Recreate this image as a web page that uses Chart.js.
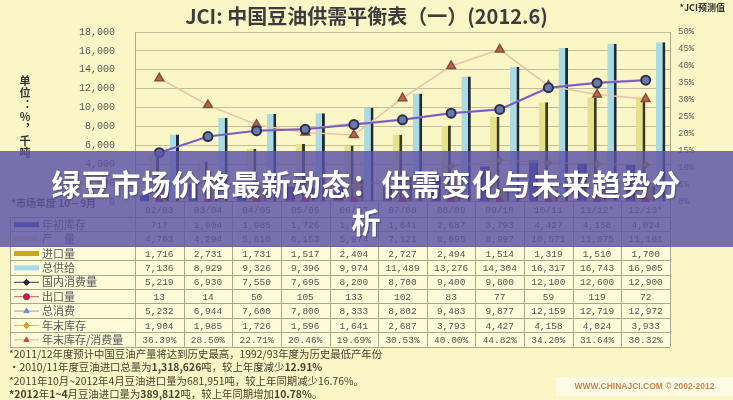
<!DOCTYPE html>
<html lang="zh">
<head>
<meta charset="UTF-8">
<title>JCI: 中国豆油供需平衡表（一）(2012.6)</title>
<script src="https://cdn.jsdelivr.net/npm/chart.js"></script>
<style>
    html, body { margin: 0; padding: 0; background: #faf6c6; }
    .wrap { position: relative; width: 733px; height: 400px; overflow: hidden; background: #faf6c6; }
    #chart { position: absolute; left: 0; top: 0; }
    .title { position: absolute; top: 1px; left: 0; width: 733px; text-align: center; line-height: 22px;
             font: bold 20px "Noto Sans CJK SC", sans-serif; color: #3c3c3c; }
    .forecast { position: absolute; top: 1px; right: 8px; font: bold 9px "Noto Sans CJK SC", sans-serif; color: #333; }
    .unit { position: absolute; left: 17px; top: 75px; writing-mode: vertical-rl; text-orientation: upright;
            font: bold 11px "Noto Sans CJK SC", sans-serif; letter-spacing: 1px; color: #333; }
    .season { position: absolute; left: 11px; top: 195px; font: bold 10px "Noto Sans CJK SC", sans-serif; color: #444; }
    .notes { position: absolute; left: 9px; top: 347px; font: 10.4px "Noto Sans CJK SC", sans-serif; line-height: 13.3px; color: #4a4232; }
    .notes b { font-weight: bold; }
    .mark { position: absolute; left: 556px; top: 377px; width: 177px; height: 19px; background: rgba(255,255,255,0.55);
            font: bold 8.5px "Liberation Sans", sans-serif; line-height: 19px; text-align: center; color: #c8864e; }
    .banner { position: absolute; left: 0; top: 151px; width: 733px; height: 96px; box-sizing: border-box;
              padding: 13px 40px 0; background: rgba(92, 82, 166, 0.82); text-align: center;
              font: bold 29px "Noto Sans CJK SC", sans-serif; line-height: 38px; letter-spacing: 1px; color: #fff;
              text-shadow: 1px 1px 2px rgba(0,0,0,0.35); }
</style>
</head>
<body>
<div class="wrap">
    <canvas id="chart" width="733" height="400"></canvas>
    <div class="title">JCI: 中国豆油供需平衡表（一）(2012.6)</div>
    <div class="forecast">*JCI预测值</div>
    <div class="unit">单位：%，千吨</div>
    <div class="season">*市场年度 10－9月</div>
    <div class="notes">
        *2011/12年度预计中国豆油产量将达到历史最高，1992/93年度为历史最低产年份<br>
        •2010/11年度豆油进口总量为<b>1,318,626</b>吨，较上年度减少<b>12.91%</b><br>
        *2011年10月~2012年4月豆油进口量为681,951吨，较上年同期减少16.76%。<br>
        <b>*2012</b>年<b>1~4</b>月豆油进口量为<b>389,812</b>吨，较上年同期增加<b>10.78%</b>。
    </div>
    <div class="mark">WWW.CHINAJCI.COM © 2002-2012</div>
    <div class="banner">绿豆市场价格最新动态：供需变化与未来趋势分析</div>
</div>

<script>
    // market years (Oct - Sep), * = JCI forecast
    var categories = ['02/03', '03/04', '04/05', '05/06', '06/07', '07/08', '08/09', '09/10', '10/11', '11/12*', '12/13*'];

    // thousand tonnes
    var openingStock = [717, 1904, 1985, 1726, 1596, 1641, 2687, 3793, 4427, 4158, 4024];
    var production = [4703, 4294, 5610, 6153, 5974, 7121, 8095, 8997, 10571, 11075, 11181];
    var imports = [1716, 2731, 1731, 1517, 2404, 2727, 2494, 1514, 1319, 1510, 1700];
    var totalSupply = [7136, 8929, 9326, 9396, 9974, 11489, 13276, 14304, 16317, 16743, 16905];
    var domesticUse = [5219, 6930, 7550, 7695, 8200, 8700, 9400, 9800, 12100, 12600, 12900];
    var exportsQty = [13, 14, 50, 105, 133, 102, 83, 77, 59, 119, 72];
    var totalUse = [5232, 6944, 7600, 7800, 8333, 8802, 9483, 9877, 12159, 12719, 12972];
    var endingStock = [1904, 1985, 1726, 1596, 1641, 2687, 3793, 4427, 4158, 4024, 3933];
    // percent
    var stockToUse = [36.39, 28.50, 22.71, 20.46, 19.69, 30.53, 40.00, 44.82, 34.20, 31.64, 30.32];

    var leftTicks = [0, 2000, 4000, 6000, 8000, 10000, 12000, 14000, 16000, 18000];
    var rightTicks = [0, 5, 10, 15, 20, 25, 30, 35, 40, 45, 50];

    function fmt(v) { return v.toLocaleString('en-US'); }
    function pct(v) { return v.toFixed(2) + '%'; }

    // rows of the data table under the chart
    var rows = [
        { label: '年初库存', data: openingStock, kind: 'bar', color: '#3b3f9e' },
        { label: '产　量', data: production, kind: 'bar', color: '#e6e28c' },
        { label: '进口量', data: imports, kind: 'bar', color: '#c9a91e' },
        { label: '总供给', data: totalSupply, kind: 'bar', color: '#a9dbe6' },
        { label: '国内消费量', data: domesticUse, kind: 'line', color: '#3a3560', marker: 'rectRot', mcolor: '#202040' },
        { label: '出口量', data: exportsQty, kind: 'line', color: '#d05070', marker: 'circle', mcolor: '#c81e4a' },
        { label: '总消费', data: totalUse, kind: 'line', color: '#8aa0d0', marker: 'triangle', mcolor: '#6f8fd0' },
        { label: '年末库存', data: endingStock, kind: 'line', color: '#e8b860', marker: 'rectRot', mcolor: '#e0a020' },
        { label: '年末库存/消费量', data: stockToUse, kind: 'line', color: '#e6b0a0', marker: 'triangle', mcolor: '#c8503c', percent: true }
    ];

    var tablePlugin = {
        id: 'dataTable',
        afterDraw: function (chart) {
            var ctx = chart.ctx;
            var xs = chart.scales.x;
            var area = chart.chartArea;
            var colW = xs.getPixelForValue(1) - xs.getPixelForValue(0);
            var top = area.bottom, headH = 15, rowH = 14.4, left = 10;
            var bottom = top + headH + rowH * rows.length;

            ctx.save();
            ctx.fillStyle = '#fdfbd8';
            ctx.fillRect(left, top + headH, area.right - left, bottom - top - headH);
            ctx.fillRect(area.left, top, area.right - area.left, headH);

            ctx.strokeStyle = '#aaa78c';
            ctx.lineWidth = 1;
            function seg(x1, y1, x2, y2) {
                ctx.beginPath(); ctx.moveTo(x1, y1); ctx.lineTo(x2, y2); ctx.stroke();
            }
            for (var i = 0; i <= rows.length; i++) {
                var y = Math.round(top + headH + rowH * i) + 0.5;
                seg(left, y, area.right, y);
            }
            for (var c = 0; c <= categories.length; c++) {
                var xx = Math.round(xs.getPixelForValue(c) - colW / 2) + 0.5;
                seg(xx, top, xx, bottom);
            }
            seg(left + 0.5, top + headH, left + 0.5, bottom);

            // header: category labels
            ctx.fillStyle = '#555';
            ctx.textAlign = 'center';
            ctx.textBaseline = 'middle';
            ctx.font = '9.5px "Liberation Mono", monospace';
            categories.forEach(function (cat, k) {
                ctx.fillText(cat, xs.getPixelForValue(k), top + headH / 2 + 1);
            });

            rows.forEach(function (row, r) {
                var cy = top + headH + rowH * r + rowH / 2 + 0.5;
                // legend swatch
                if (row.kind === 'bar') {
                    ctx.fillStyle = row.color;
                    ctx.fillRect(14, cy - 2.5, 25, 5);
                } else {
                    ctx.strokeStyle = row.color;
                    seg(14, cy, 39, cy);
                    ctx.fillStyle = row.mcolor;
                    ctx.strokeStyle = row.mcolor;
                    Chart.helpers.drawPoint(ctx, { pointStyle: row.marker, radius: 3, borderWidth: 1, rotation: 0 }, 26.5, cy);
                    ctx.fill();
                }
                ctx.fillStyle = '#5a5a5a';
                ctx.textAlign = 'left';
                ctx.font = '11px "Noto Sans CJK SC", sans-serif';
                ctx.fillText(row.label, 42, cy);

                ctx.fillStyle = '#555';
                ctx.textAlign = 'center';
                ctx.font = '9.5px "Liberation Mono", monospace';
                row.data.forEach(function (v, k) {
                    ctx.fillText(row.percent ? pct(v) : fmt(v), xs.getPixelForValue(k), cy + 0.5);
                });
            });
            ctx.restore();
        }
    };

    var tickFont = { family: '"Liberation Mono", monospace', size: 10 };

    new Chart(document.getElementById('chart'), {
        type: 'bar',
        data: {
            labels: categories,
            datasets: [
                { label: '年初库存', data: openingStock, backgroundColor: '#3b3f9e', borderColor: '#1a1c48', borderWidth: { right: 3 }, order: 2 },
                { label: '产量', data: production, backgroundColor: '#e6e28c', borderColor: '#3c3a1c', borderWidth: { right: 3 }, order: 2 },
                { label: '进口量', data: imports, backgroundColor: '#c9a91e', borderColor: '#4a3c10', borderWidth: { right: 3 }, order: 2 },
                { label: '总供给', data: totalSupply, backgroundColor: '#a9dbe6', borderColor: '#1e2a36', borderWidth: { right: 3 }, order: 2 },
                { type: 'line', label: '总消费', data: totalUse, borderColor: '#d4b4cc', borderWidth: 1, pointStyle: 'triangle',
                  pointRadius: 3, pointBackgroundColor: '#8fa8d8', pointBorderColor: '#6f8fd0', order: 1 },
                { type: 'line', label: '国内消费量', data: domesticUse, borderColor: '#7a5cc8', borderWidth: 2, pointStyle: 'circle',
                  pointRadius: 4.5, pointBackgroundColor: '#6a7aa8', pointBorderColor: '#2c3050', order: 0 },
                { type: 'line', label: '出口量', data: exportsQty, borderColor: '#d05070', borderWidth: 1, pointStyle: 'circle',
                  pointRadius: 3.5, pointBackgroundColor: '#c81e4a', pointBorderColor: '#901030', order: 0 },
                { type: 'line', label: '年末库存', data: endingStock, borderColor: '#e8b860', borderWidth: 1, pointStyle: 'rectRot',
                  pointRadius: 3.5, pointBackgroundColor: '#e0a020', pointBorderColor: '#a07010', order: 0 },
                { type: 'line', label: '年末库存/消费量', data: stockToUse, yAxisID: 'y1', borderColor: '#e6c4ac', borderWidth: 1.5,
                  pointStyle: 'triangle', pointRadius: 5, pointBackgroundColor: '#b8674a', pointBorderColor: '#8a4a3a', order: 0 }
            ]
        },
        options: {
            responsive: false,
            animation: false,
            layout: { padding: { top: 32, bottom: 198 } },
            plugins: { legend: { display: false }, tooltip: { enabled: false } },
            datasets: { bar: { categoryPercentage: 0.82, barPercentage: 0.95 }, line: { tension: 0 } },
            scales: {
                x: { display: false, offset: true },
                y: {
                    min: 0, max: 18000,
                    afterBuildTicks: function (s) { s.ticks = leftTicks.map(function (v) { return { value: v }; }); },
                    ticks: { callback: function (v) { return fmt(v); }, font: tickFont, color: '#5a5a5a', padding: 20 },
                    grid: { color: '#c2bfa0', drawTicks: false },
                    border: { color: '#aaa78c' },
                    afterFit: function (s) { s.width = 135; }
                },
                y1: {
                    position: 'right', min: 0, max: 50,
                    afterBuildTicks: function (s) { s.ticks = rightTicks.map(function (v) { return { value: v }; }); },
                    ticks: { callback: function (v) { return v + '%'; }, font: { family: '"Liberation Mono", monospace', size: 9 }, color: '#5a5a5a', padding: 8 },
                    grid: { display: false, drawTicks: false },
                    border: { display: true, color: '#aaa78c' },
                    afterFit: function (s) { s.width = 63; }
                }
            }
        },
        plugins: [tablePlugin]
    });
</script>
</body>
</html>
